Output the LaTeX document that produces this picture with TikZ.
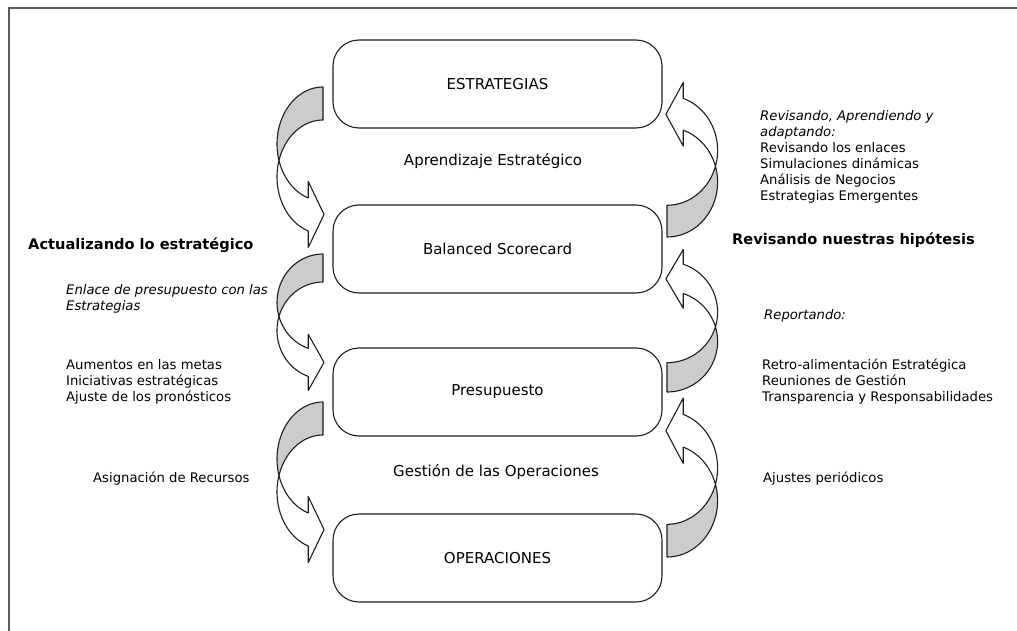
\documentclass[tikz,border=0pt]{standalone}
\usepackage{fontspec}
\setmainfont{DejaVu Sans}
\begin{document}
\begin{tikzpicture}[x=1pt, y=-1pt,
  linec/.style={draw={rgb,255:red,30;green,30;blue,30}, line width=1.1pt, line join=round},
  stage/.style={linec, rounded corners=26pt, minimum width=329pt, minimum height=88pt,
    inner sep=0pt, font=\fontsize{15}{18}\selectfont},
  caption/.style={inner sep=0pt, font=\fontsize{15}{18}\selectfont},
  sidetext/.style={inner sep=0pt, font=\fontsize{13.2}{16}\selectfont},
  note/.style={sidetext, align=left, anchor=north west},
  headline/.style={inner sep=0pt, anchor=base west, font=\fontsize{14.6}{18}\selectfont\bfseries},
  backface/.style={linec, fill={rgb,255:red,204;green,204;blue,204}},
  frontface/.style={linec, fill=white},
  % curved ribbon arrow: tail at the origin (top right), head at the bottom pointing right
  bend arrow/.pic={
    \path[backface]
      plot[domain=90:196.83, samples=36, variable=\t] ({46*cos(\t)}, {57-57*sin(\t)})
      -- plot[domain=163.17:90, samples=36, variable=\t] ({46*cos(\t)}, {90-57*sin(\t)})
      -- cycle;
    \path[frontface]
      plot[domain=196.83:251.3, samples=30, variable=\t] ({46*cos(\t)}, {57-57*sin(\t)})
      -- (-14.75,94.5) -- (1,127.5) -- (-14.75,160.5)
      -- plot[domain=251.3:163.17, samples=40, variable=\t] ({46*cos(\t)}, {90-57*sin(\t)})
      -- cycle;
  }]
\useasboundingbox (0,0) rectangle (1017,631);
\clip (0,0) rectangle (1017,631);
\fill[white] (0,0) rectangle (1017,631);

% outer frame (only its top and left sides fall inside the page)
\draw[draw={rgb,255:red,90;green,90;blue,90}, line width=2pt] (9,660) -- (9,8) -- (1060,8);

% the four stages
\node[stage] (estr) at (497.5,84)  {ESTRATEGIAS};
\node[stage] (bsc)  at (497.5,249) {Balanced Scorecard};
\node[stage] (pres) at (497.5,392) {Presupuesto};
\node[stage] (oper) at (497.5,558) {OPERACIONES};

% left arrows, flowing downwards
\pic at (323,87) {bend arrow};
\pic[yscale=0.85] at (323,254) {bend arrow};
\pic at (323,402) {bend arrow};

% right arrows, flowing upwards
\pic[rotate=180, xscale=1.1, yscale=0.9625] at (667,237) {bend arrow};
\pic[rotate=180, xscale=1.1, yscale=0.8875] at (667,392) {bend arrow};
\pic[rotate=180, xscale=1.1, yscale=0.99] at (667,557) {bend arrow};

% texts between the stages
\node[caption] (learn) at (493,161) {Aprendizaje Estratégico};
\node[caption] (gest)  at (496,472) {Gestión de las Operaciones};

% left side
\node[headline] (actual) at (28,249) {Actualizando lo estratégico};
\node[note] (enlace) at (66,283.2) {\strut\textit{Enlace de presupuesto con las}\\\strut\textit{Estrategias}};
\node[note] (aument) at (66,358.2) {\strut Aumentos en las metas\\\strut Iniciativas estratégicas\\\strut Ajuste de los pronósticos};
\node[sidetext, anchor=base west] (asign) at (93,482.4) {Asignación de Recursos};

% right side
\node[note] (revis) at (760,109.2) {\strut\textit{Revisando, Aprendiendo y}\\\strut\textit{adaptando:}\\\strut Revisando los enlaces\\\strut Simulaciones dinámicas\\\strut Análisis de Negocios\\\strut Estrategias Emergentes};
\node[headline] (hipot) at (732,244) {Revisando nuestras hipótesis};
\node[sidetext, anchor=base west] (report) at (764,319.4) {\textit{Reportando:}};
\node[note] (retro) at (762,358.2) {\strut Retro-alimentación Estratégica\\\strut Reuniones de Gestión\\\strut Transparencia y Responsabilidades};
\node[sidetext, anchor=base west] (ajust) at (763,482.4) {Ajustes periódicos};
\end{tikzpicture}
\end{document}
